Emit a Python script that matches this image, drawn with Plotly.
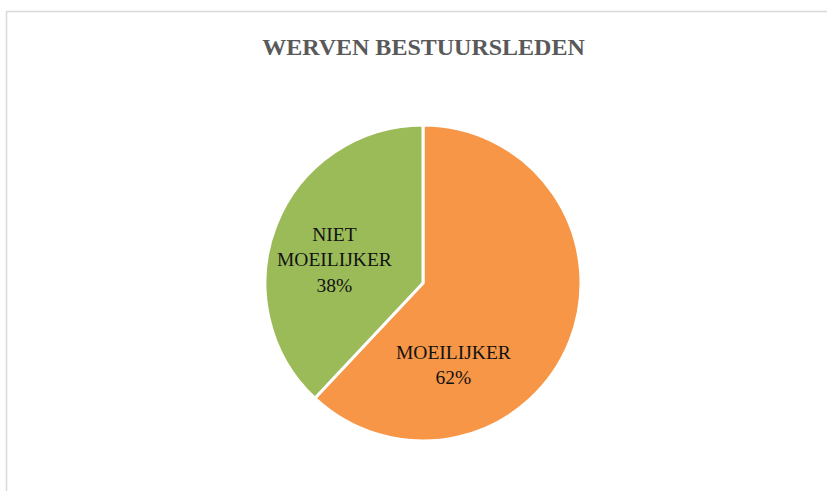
import plotly.graph_objects as go

labels = ["MOEILIJKER", "NIET<br>MOEILIJKER"]
values = [62, 38]
colors = ["#F79646", "#9BBB59"]
title = "WERVEN BESTUURSLEDEN"

W, H = 827, 491
cx, cy, r = 423, 283, 158
# label block centres (pixels) for each slice, in slice order
label_px = [(453, 365), (334, 260)]
SERIF = "Liberation Serif, DejaVu Serif, serif"

fig = go.Figure(go.Pie(
    labels=labels,
    values=values,
    sort=False,
    direction="clockwise",
    rotation=0,
    marker=dict(colors=colors, line=dict(color="white", width=3)),
    textinfo="none",
    hoverinfo="label+percent",
    showlegend=False,
    domain=dict(x=[(cx - r) / W, (cx + r) / W], y=[(H - cy - r) / H, (H - cy + r) / H]),
))

total = sum(values)
annotations = []
for lab, val, (px, py) in zip(labels, values, label_px):
    annotations.append(dict(
        text=f"{lab}<br>{round(100 * val / total)}%",
        x=px / W, y=1 - py / H, xref="paper", yref="paper",
        xanchor="center", yanchor="middle", showarrow=False, align="center",
        font=dict(family=SERIF, size=19.5, color="#111111"),
    ))

fig.update_layout(
    width=W, height=H,
    margin=dict(l=0, r=0, t=0, b=0),
    paper_bgcolor="white",
    title=dict(text="<b>" + title + "</b>", x=0.5 + (423.5 - W / 2) / W, xanchor="center",
               y=1 - 47 / H, yanchor="middle",
               font=dict(family=SERIF, size=24, color="#595959")),
    annotations=annotations,
    shapes=[dict(type="rect", xref="paper", yref="paper",
                 x0=6.5 / W, x1=1.05, y0=-0.05, y1=1 - 11.5 / H,
                 line=dict(color="#D9D9D9", width=1.5), fillcolor="rgba(0,0,0,0)", layer="below")],
)

fig.write_html("out.html", config={"displayModeBar": False},
               post_script="document.body.style.margin='0';")
